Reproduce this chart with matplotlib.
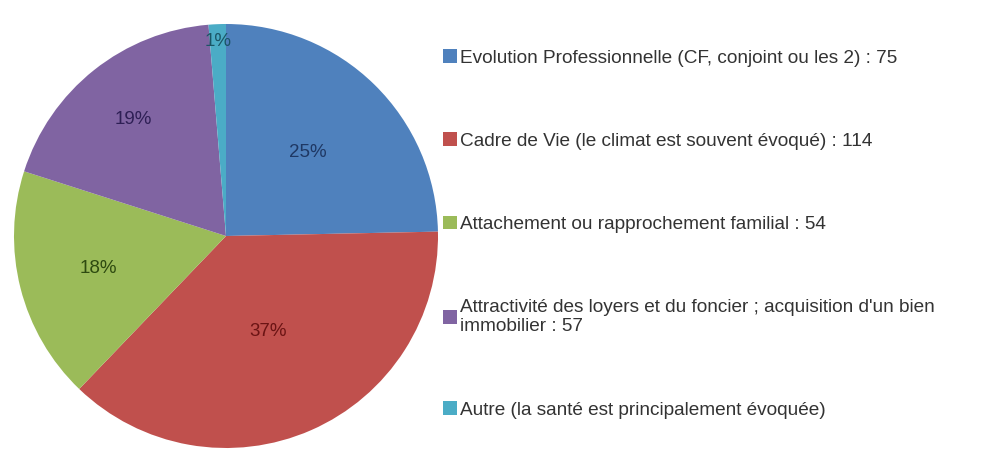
import matplotlib.pyplot as plt
import numpy as np

labels = [
    "Evolution Professionnelle (CF, conjoint ou les 2) : 75",
    "Cadre de Vie (le climat est souvent évoqué) : 114",
    "Attachement ou rapprochement familial : 54",
    "Attractivité des loyers et du foncier ; acquisition d'un bien\nimmobilier : 57",
    "Autre (la santé est principalement évoquée)",
]
values = [75, 114, 54, 57, 4]
pct_text = ["25%", "37%", "18%", "19%", "1%"]

colors = ["#4F81BD", "#C0504D", "#9BBB59", "#8064A2", "#4BACC6"]
pct_colors = ["#1F3864", "#6B1414", "#2E4A10", "#2E1F55", "#1B5566"]
# Excel-style label placement (fraction of radius)
pct_dist = [0.55, 0.49, 0.62, 0.70, 0.92]

plt.rcParams['font.family'] = ['Liberation Sans', 'DejaVu Sans']

fig = plt.figure(figsize=(9.86, 4.61), dpi=100)
cx, cy, r = 226, 236, 212
ax = fig.add_axes([(cx - r) / 986, (461 - cy - r) / 461, 2 * r / 986, 2 * r / 461])

wedges, _ = ax.pie(values, colors=colors, startangle=90, counterclock=False,
                   wedgeprops=dict(linewidth=0))
ax.set_xlim(-1, 1)
ax.set_ylim(-1, 1)
ax.set_aspect('equal')

for w, t, c, d in zip(wedges, pct_text, pct_colors, pct_dist):
    ang = np.deg2rad((w.theta1 + w.theta2) / 2)
    ax.text(d * np.cos(ang), d * np.sin(ang), t, ha='center', va='center',
            fontsize=13.5, color=c)

fig.legend(wedges, labels, loc='upper left', bbox_to_anchor=(443 / 986, 1 - 49 / 461),
           frameon=False, fontsize=13.7, labelspacing=3.45, handlelength=0.75,
           handleheight=0.75, handletextpad=0.15, borderpad=0, borderaxespad=0,
           labelcolor='#333333')

fig.savefig("out.png", dpi=100)
